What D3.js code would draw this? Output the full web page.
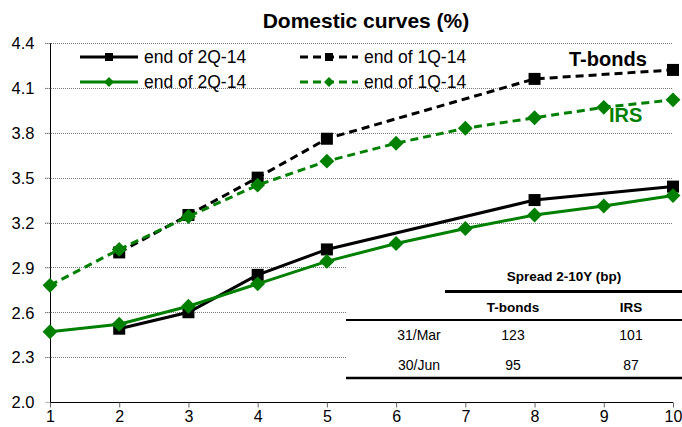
<!DOCTYPE html>
<html>
<head>
<meta charset="utf-8">
<script src="https://cdn.jsdelivr.net/npm/d3@7"></script>
<style>
  body { margin: 0; background: #fff; }
  text { font-family: "Liberation Sans", Arial, sans-serif; }
</style>
</head>
<body>
<script>
// Data
var tenors = [1, 2, 3, 4, 5, 6, 7, 8, 9, 10];
var bondsQ2 = [null, 2.49, 2.60, 2.85, 3.02, null, null, 3.35, null, 3.44];
var bondsQ1 = [null, 3.00, 3.25, 3.50, 3.76, null, null, 4.16, null, 4.22];
var irsQ2 = [2.47, 2.52, 2.64, 2.79, 2.94, 3.06, 3.16, 3.25, 3.31, 3.38];
var irsQ1 = [2.78, 3.02, 3.24, 3.45, 3.61, 3.73, 3.83, 3.90, 3.97, 4.02];
var yTicks = [2.0, 2.3, 2.6, 2.9, 3.2, 3.5, 3.8, 4.1, 4.4];

var tableCols = ["T-bonds", "IRS"];
var tableRows = [["31/Mar", 123, 101], ["30/Jun", 95, 87]];

var w = 682, h = 427;
var green = "#008000";

var xScale = d3.scaleLinear().domain([1, 10]).range([50, 673]);
var yScale = d3.scaleLinear().domain([2.0, 4.4]).range([402, 43]);

var svg = d3.select("body").append("svg")
  .attr("width", w).attr("height", h);

// title
svg.append("text")
  .attr("x", 366).attr("y", 28)
  .attr("text-anchor", "middle")
  .style("font-size", "21px").style("font-weight", "bold")
  .text("Domestic curves (%)");

// gridlines
svg.append("g").selectAll("line")
  .data(yTicks.slice(1)).enter().append("line")
  .attr("x1", 45).attr("x2", 673)
  .attr("y1", function(d) { return Math.round(yScale(d)) + 0.5; })
  .attr("y2", function(d) { return Math.round(yScale(d)) + 0.5; })
  .attr("stroke", "#777").attr("stroke-width", 1)
  .attr("stroke-dasharray", "1,1");

// axes
var yAxis = d3.axisLeft(yScale).tickValues(yTicks).tickSize(5)
  .tickFormat(d3.format(".1f"));
var xAxis = d3.axisBottom(xScale).tickValues(tenors).tickSize(5)
  .tickFormat(d3.format("d"));

var gy = svg.append("g").attr("transform", "translate(50.5,0)").call(yAxis);
gy.select(".domain").attr("d", "M0," + yScale(4.4) + "V" + yScale(2.0));
gy.selectAll(".tick line").attr("stroke", "#777").attr("stroke-dasharray", "1,1");
gy.selectAll("text").attr("x", -16).attr("dy", "0.35em")
  .style("font-size", "16.5px").attr("fill", "#000");

var gx = svg.append("g").attr("transform", "translate(0,402.5)").call(xAxis);
gx.select(".domain").attr("d", "M" + xScale(1) + ",0H" + xScale(10));
gx.selectAll(".tick line").attr("stroke", "#666");
gx.selectAll("text").attr("y", 7).attr("dy", "0.8em")
  .style("font-size", "16px").attr("fill", "#000");

// spread table (white box covers gridlines)
var tb = svg.append("g");
tb.append("rect").attr("x", 346).attr("y", 262).attr("width", 336).attr("height", 122)
  .attr("fill", "#fff");

// series
var line = d3.line()
  .defined(function(d) { return d[1] != null; })
  .x(function(d) { return xScale(d[0]); })
  .y(function(d) { return yScale(d[1]); });

function pts(vals) {
  return tenors.map(function(t, i) { return [t, vals[i]]; })
    .filter(function(d) { return d[1] != null; });
}

var series = [
  { vals: bondsQ1, color: "#000", dash: "8,5", marker: "square" },
  { vals: irsQ1, color: green, dash: "8,5", marker: "diamond" },
  { vals: bondsQ2, color: "#000", dash: null, marker: "square" },
  { vals: irsQ2, color: green, dash: null, marker: "diamond" }
];

function drawMarker(g, kind, x, y, s, color) {
  if (kind === "square") {
    g.append("rect").attr("x", x - s / 2).attr("y", y - s / 2)
      .attr("width", s).attr("height", s).attr("fill", color);
  } else {
    var r = s * 0.62;
    g.append("path")
      .attr("d", "M" + x + "," + (y - r) + "L" + (x + r) + "," + y + "L" + x + "," + (y + r) + "L" + (x - r) + "," + y + "Z")
      .attr("fill", color);
  }
}

series.forEach(function(s) {
  var p = pts(s.vals);
  svg.append("path").datum(p)
    .attr("d", line)
    .attr("fill", "none")
    .attr("stroke", s.color)
    .attr("stroke-width", 3)
    .attr("stroke-dasharray", s.dash);
  var g = svg.append("g");
  p.forEach(function(d) {
    drawMarker(g, s.marker, xScale(d[0]), yScale(d[1]), 12, s.color);
  });
});

// table content
tb.append("text").attr("x", 564).attr("y", 281).attr("text-anchor", "middle")
  .style("font-size", "13.5px").style("font-weight", "bold")
  .text("Spread 2-10Y (bp)");
tb.append("line").attr("x1", 445).attr("x2", 682).attr("y1", 291.5).attr("y2", 291.5)
  .attr("stroke", "#000").attr("stroke-width", 3);
var colX = [419, 513, 631];
tb.selectAll(".hd").data(tableCols).enter().append("text")
  .attr("x", function(d, i) { return colX[i + 1]; }).attr("y", 312)
  .attr("text-anchor", "middle")
  .style("font-size", "13.5px").style("font-weight", "bold")
  .text(function(d) { return d; });
tb.append("line").attr("x1", 346).attr("x2", 682).attr("y1", 320).attr("y2", 320)
  .attr("stroke", "#000").attr("stroke-width", 2);
tableRows.forEach(function(r, ri) {
  r.forEach(function(v, ci) {
    tb.append("text").attr("x", colX[ci]).attr("y", 340 + ri * 30)
      .attr("text-anchor", "middle")
      .style("font-size", "14px")
      .text(v);
  });
});
tb.append("line").attr("x1", 346).attr("x2", 682).attr("y1", 378).attr("y2", 378)
  .attr("stroke", "#000").attr("stroke-width", 2.5);

// annotations
svg.append("text").attr("x", 569).attr("y", 66)
  .style("font-size", "20px").style("font-weight", "bold").text("T-bonds");
svg.append("text").attr("x", 609).attr("y", 122).attr("fill", green)
  .style("font-size", "20px").style("font-weight", "bold").text("IRS");

// legend
var legend = [
  { label: "end of 2Q-14", color: "#000", dash: null, marker: "square", x: 80, y: 57 },
  { label: "end of 1Q-14", color: "#000", dash: "8,5", marker: "square", x: 300, y: 57 },
  { label: "end of 2Q-14", color: green, dash: null, marker: "diamond", x: 80, y: 82 },
  { label: "end of 1Q-14", color: green, dash: "8,5", marker: "diamond", x: 300, y: 82 }
];
legend.forEach(function(l) {
  var g = svg.append("g");
  g.append("line").attr("x1", l.x).attr("x2", l.x + 58).attr("y1", l.y).attr("y2", l.y)
    .attr("stroke", l.color).attr("stroke-width", 3).attr("stroke-dasharray", l.dash);
  drawMarker(g, l.marker, l.x + 29, l.y, 8, l.color);
  g.append("text").attr("x", l.x + 64).attr("y", l.y + 6)
    .style("font-size", "17.5px").text(l.label);
});
</script>
</body>
</html>
